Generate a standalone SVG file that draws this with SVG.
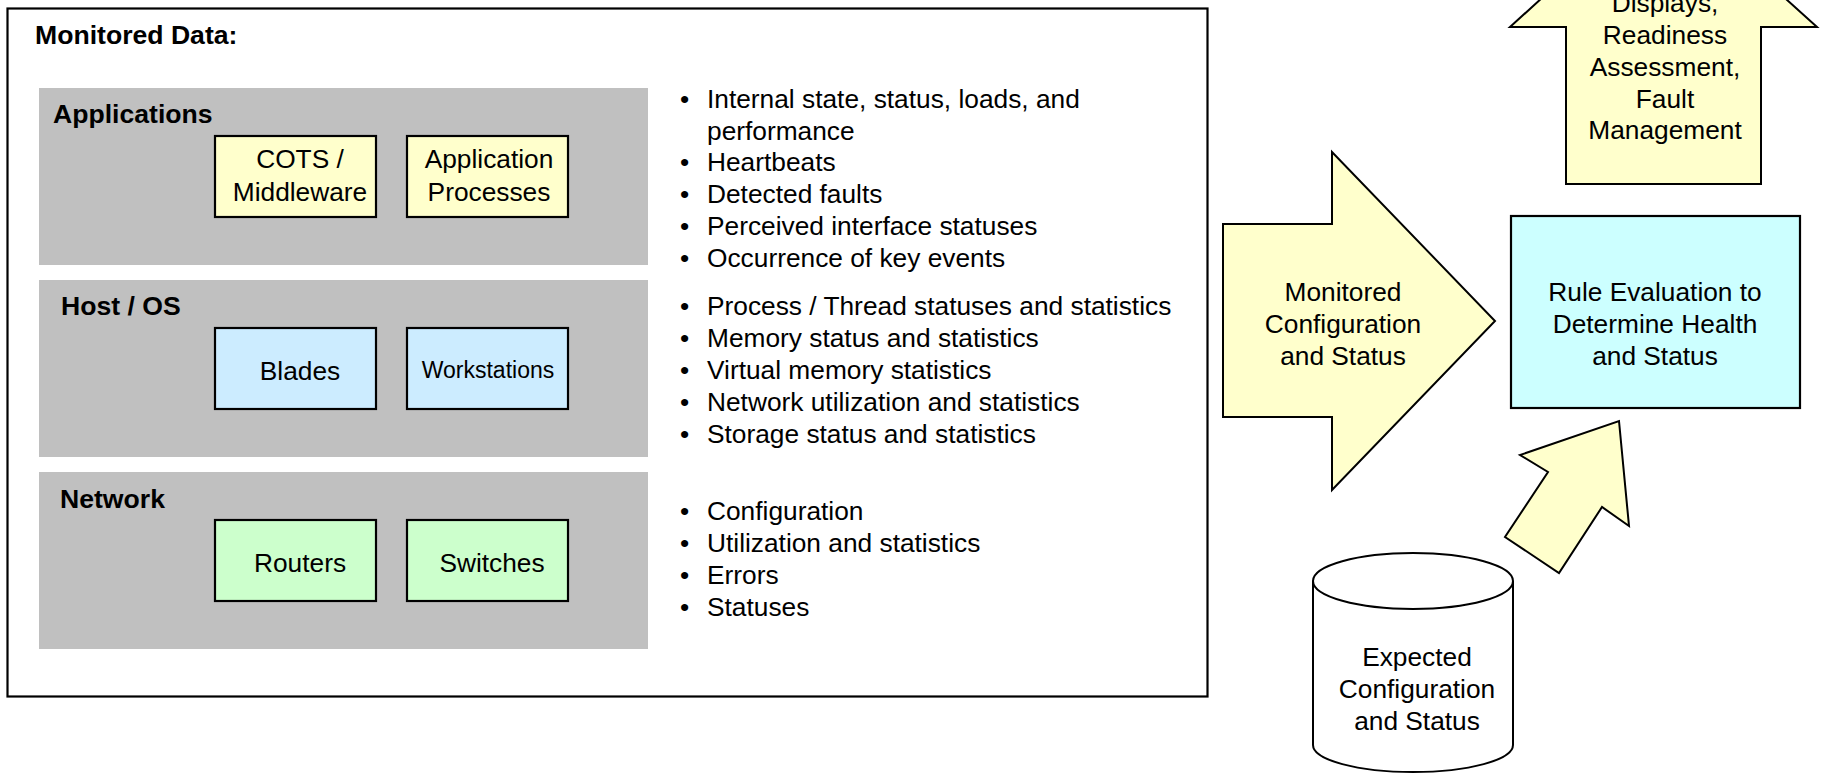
<svg xmlns="http://www.w3.org/2000/svg" width="1821" height="773" viewBox="0 0 1821 773">
  <style>
    text { font-family: "Liberation Sans", Arial, sans-serif; font-size: 26.3px; fill: #000; }
    .b { font-weight: bold; font-size: 26.6px; }
    .c { text-anchor: middle; }
    .ws { font-size: 23px; }
    .frame { fill: #fff; stroke: #000; stroke-width: 2.2; }
    .panel { fill: #C0C0C0; stroke: none; }
    .box { stroke: #000; stroke-width: 2.2; }
    .yel { fill: #FFFFCC; }
    .blu { fill: #CCECFF; }
    .grn { fill: #CCFFCC; }
    .cyn { fill: #CCFFFF; }
    .shape { fill: #FFFFCC; stroke: #000; stroke-width: 2; stroke-linejoin: miter; }
    .db { fill: #fff; stroke: #000; stroke-width: 2; }
  </style>

  <rect width="1821" height="773" fill="#fff"/>

  <!-- Monitored data frame -->
  <g id="monitored-data">
    <rect class="frame" x="7.5" y="8.5" width="1200" height="688"/>
    <text class="b" x="35" y="44">Monitored Data:</text>
  </g>

  <!-- Applications layer -->
  <g id="applications">
    <rect class="panel" x="39" y="88" width="609" height="177"/>
    <text class="b" x="53" y="123">Applications</text>
    <g id="cots">
      <rect class="box yel" x="215" y="136" width="161" height="81"/>
      <text class="c" x="300" y="168">COTS /</text>
      <text class="c" x="300" y="201">Middleware</text>
    </g>
    <g id="app-processes">
      <rect class="box yel" x="407" y="136" width="161" height="81"/>
      <text class="c" x="489" y="168">Application</text>
      <text class="c" x="489" y="201">Processes</text>
    </g>
  </g>

  <!-- Host / OS layer -->
  <g id="host-os">
    <rect class="panel" x="39" y="280" width="609" height="177"/>
    <text class="b" x="61" y="315">Host / OS</text>
    <g id="blades">
      <rect class="box blu" x="215" y="328" width="161" height="81"/>
      <text class="c" x="300" y="380">Blades</text>
    </g>
    <g id="workstations">
      <rect class="box blu" x="407" y="328" width="161" height="81"/>
      <text class="c ws" x="488" y="378">Workstations</text>
    </g>
  </g>

  <!-- Network layer -->
  <g id="network">
    <rect class="panel" x="39" y="472" width="609" height="177"/>
    <text class="b" x="60" y="508">Network</text>
    <g id="routers">
      <rect class="box grn" x="215" y="520" width="161" height="81"/>
      <text class="c" x="300" y="572">Routers</text>
    </g>
    <g id="switches">
      <rect class="box grn" x="407" y="520" width="161" height="81"/>
      <text class="c" x="492" y="572">Switches</text>
    </g>
  </g>

  <!-- Monitored items per layer -->
  <g id="app-items">
    <text x="680" y="108">•</text><text x="707" y="108">Internal state, status, loads, and</text>
    <text x="707" y="139.5">performance</text>
    <text x="680" y="171">•</text><text x="707" y="171">Heartbeats</text>
    <text x="680" y="203">•</text><text x="707" y="203">Detected faults</text>
    <text x="680" y="235">•</text><text x="707" y="235">Perceived interface statuses</text>
    <text x="680" y="266.5">•</text><text x="707" y="266.5">Occurrence of key events</text>
  </g>
  <g id="host-items">
    <text x="680" y="315">•</text><text x="707" y="315">Process / Thread statuses and statistics</text>
    <text x="680" y="347">•</text><text x="707" y="347">Memory status and statistics</text>
    <text x="680" y="379">•</text><text x="707" y="379">Virtual memory statistics</text>
    <text x="680" y="411">•</text><text x="707" y="411">Network utilization and statistics</text>
    <text x="680" y="443">•</text><text x="707" y="443">Storage status and statistics</text>
  </g>
  <g id="network-items">
    <text x="680" y="520">•</text><text x="707" y="520">Configuration</text>
    <text x="680" y="552">•</text><text x="707" y="552">Utilization and statistics</text>
    <text x="680" y="584">•</text><text x="707" y="584">Errors</text>
    <text x="680" y="616">•</text><text x="707" y="616">Statuses</text>
  </g>

  <!-- Rule evaluation -->
  <g id="rule-evaluation">
    <rect class="box cyn" x="1511" y="216" width="289" height="192"/>
    <text class="c" x="1655" y="300.5">Rule Evaluation to</text>
    <text class="c" x="1655" y="332.5">Determine Health</text>
    <text class="c" x="1655" y="364.5">and Status</text>
  </g>

  <!-- Expected configuration store -->
  <g id="expected-config">
    <path class="db" d="M1313,581 L1313,745 A100,27 0 0 0 1513,745 L1513,581"/>
    <ellipse class="db" cx="1413" cy="581" rx="100" ry="28"/>
    <text class="c" x="1417" y="666">Expected</text>
    <text class="c" x="1417" y="698">Configuration</text>
    <text class="c" x="1417" y="729.5">and Status</text>
  </g>

  <!-- Block arrows -->
  <g id="connectors">
    <g id="monitored-flow">
      <polygon class="shape" points="1223,224 1332,224 1332,152 1495,321 1332,490 1332,417 1223,417"/>
      <text class="c" x="1343" y="300.5">Monitored</text>
      <text class="c" x="1343" y="332.5">Configuration</text>
      <text class="c" x="1343" y="364.5">and Status</text>
    </g>
    <g id="expected-flow">
      <polygon class="shape" points="1619,421 1629,526 1602,507 1559,573 1505,537 1548,472 1520,455"/>
    </g>
    <g id="output-flow">
      <polygon class="shape" points="1663,-112 1817,27 1761,27 1761,184 1566,184 1566,27 1510,27"/>
      <text class="c" x="1665" y="11.5">Displays,</text>
      <text class="c" x="1665" y="43.5">Readiness</text>
      <text class="c" x="1665" y="75.5">Assessment,</text>
      <text class="c" x="1665" y="107.5">Fault</text>
      <text class="c" x="1665" y="139">Management</text>
    </g>
  </g>
</svg>
